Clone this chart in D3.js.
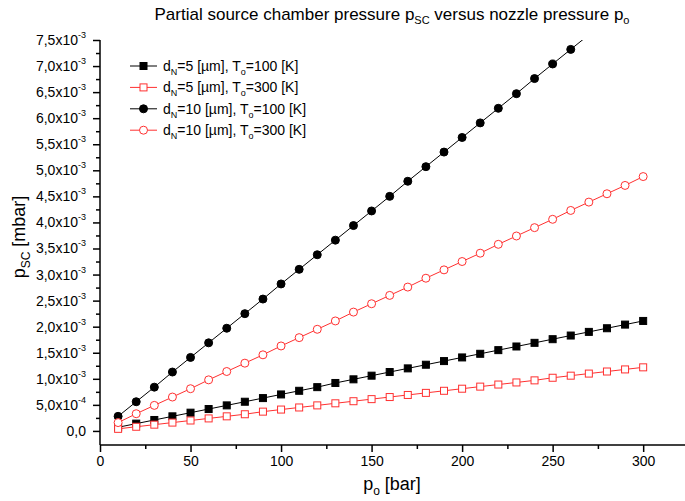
<!DOCTYPE html>
<html>
<head>
<meta charset="utf-8">
<script src="https://cdn.jsdelivr.net/npm/d3@7"></script>
<style>
  body { margin: 0; background: #fff; }
  text { font-family: "Liberation Sans", Arial, sans-serif; fill: #000; }
</style>
</head>
<body>
<div id="chart"></div>
<script>
// nozzle pressure p_o [bar]
const po = [10, 20, 30, 40, 50, 60, 70, 80, 90, 100, 110, 120, 130, 140, 150,
  160, 170, 180, 190, 200, 210, 220, 230, 240, 250, 260, 270, 280, 290, 300];

// p_SC in units of 1e-3 mbar
const d5T100 = [0.07, 0.14, 0.21, 0.28, 0.35, 0.42, 0.49, 0.56, 0.63, 0.70,
  0.77, 0.84, 0.92, 0.99, 1.06, 1.13, 1.20, 1.27, 1.34, 1.41,
  1.48, 1.55, 1.62, 1.69, 1.76, 1.83, 1.90, 1.97, 2.04, 2.11];
const d5T300 = [0.04, 0.08, 0.12, 0.16, 0.20, 0.24, 0.28, 0.32, 0.37, 0.41,
  0.45, 0.49, 0.53, 0.57, 0.61, 0.65, 0.69, 0.73, 0.77, 0.81,
  0.85, 0.89, 0.93, 0.97, 1.02, 1.06, 1.10, 1.14, 1.18, 1.22];
const d10T100 = [0.28, 0.56, 0.84, 1.13, 1.41, 1.69, 1.97, 2.25, 2.53, 2.82,
  3.10, 3.38, 3.66, 3.94, 4.22, 4.50, 4.79, 5.07, 5.35, 5.63,
  5.91, 6.19, 6.47, 6.76, 7.04, 7.32, 7.60, 7.88, 8.16, 8.44];
const d10T300 = [0.16, 0.33, 0.49, 0.65, 0.81, 0.98, 1.14, 1.30, 1.46, 1.63,
  1.79, 1.95, 2.11, 2.28, 2.44, 2.60, 2.76, 2.93, 3.09, 3.25,
  3.41, 3.58, 3.74, 3.90, 4.06, 4.23, 4.39, 4.55, 4.71, 4.88];

// legend entries
const seriesDN = [5, 5, 10, 10];
const seriesT0 = [100, 300, 100, 300];

// axis ticks
const xTicks = [0, 50, 100, 150, 200, 250, 300];
const xMinor = [25, 75, 125, 175, 225, 275];
const yTicks = [0, 0.5, 1, 1.5, 2, 2.5, 3, 3.5, 4, 4.5, 5, 5.5, 6, 6.5, 7, 7.5];
const yTickLabels = [['0,0', ''], ['5,0x10', '-4'], ['1,0x10', '-3'], ['1,5x10', '-3'],
  ['2,0x10', '-3'], ['2,5x10', '-3'], ['3,0x10', '-3'], ['3,5x10', '-3'],
  ['4,0x10', '-3'], ['4,5x10', '-3'], ['5,0x10', '-3'], ['5,5x10', '-3'],
  ['6,0x10', '-3'], ['6,5x10', '-3'], ['7,0x10', '-3'], ['7,5x10', '-3']];
const yMinor = [0.25, 0.75, 1.25, 1.75, 2.25, 2.75, 3.25, 3.75, 4.25, 4.75,
  5.25, 5.75, 6.25, 6.75, 7.25];

!(function () {
  'use strict'
  const width = 685, height = 501;
  const m = { left: 100, right: 683, top: 40, bottom: 445 };

  const series = [
    { values: d5T100, color: '#000', shape: 'square', filled: true },
    { values: d5T300, color: '#ff3030', shape: 'square', filled: false },
    { values: d10T100, color: '#000', shape: 'circle', filled: true },
    { values: d10T300, color: '#ff3030', shape: 'circle', filled: false }
  ];

  const svg = d3.select('#chart').append('svg')
    .attr('width', width)
    .attr('height', height);

  const x = d3.scaleLinear().domain([0, 322]).range([m.left, m.right]);
  const y = d3.scaleLinear().domain([-0.27, 7.5]).range([m.bottom, m.top]);

  svg.append('clipPath').attr('id', 'plot-clip')
    .append('rect')
    .attr('x', m.left).attr('y', m.top)
    .attr('width', width - m.left).attr('height', m.bottom - m.top);

  // title
  const title = svg.append('text')
    .attr('x', 392).attr('y', 20)
    .attr('text-anchor', 'middle')
    .style('font-size', '17px');
  title.append('tspan').text('Partial source chamber pressure p');
  title.append('tspan').attr('dy', 4).style('font-size', '11px').text('SC');
  title.append('tspan').attr('dy', -4).text(' versus nozzle pressure p');
  title.append('tspan').attr('dy', 4).style('font-size', '11px').text('o');

  // axes
  const xAxisG = svg.append('g').attr('transform', 'translate(0,' + m.bottom + ')');
  xAxisG.call(d3.axisBottom(x).tickValues(xTicks).tickSize(7).tickPadding(4).tickFormat(d3.format('d')));
  xAxisG.append('g').call(d3.axisBottom(x).tickValues(xMinor).tickSize(4).tickFormat(''));
  xAxisG.selectAll('.domain').remove();
  xAxisG.selectAll('.tick line').attr('stroke', '#000').attr('stroke-width', 1.5);
  xAxisG.selectAll('.tick text')
    .style('font-size', '14px')
    .style('font-family', '"Liberation Sans", Arial, sans-serif');

  const yAxisG = svg.append('g').attr('transform', 'translate(' + m.left + ',0)');
  yAxisG.call(d3.axisLeft(y).tickValues(yTicks).tickSize(7).tickFormat(''));
  yAxisG.append('g').call(d3.axisLeft(y).tickValues(yMinor).tickSize(4).tickFormat(''));
  yAxisG.selectAll('.domain').remove();
  yAxisG.selectAll('.tick line').attr('stroke', '#000').attr('stroke-width', 1.5);

  yAxisG.selectAll('.ylab')
    .data(yTicks)
    .join('text')
    .attr('class', 'ylab')
    .attr('x', -14)
    .attr('y', d => y(d) + 5)
    .attr('text-anchor', 'end')
    .style('font-size', '14px')
    .each(function (d, i) {
      const t = d3.select(this);
      t.append('tspan').text(yTickLabels[i][0]);
      if (yTickLabels[i][1]) {
        t.append('tspan').attr('dy', -7).style('font-size', '9px').text(yTickLabels[i][1]);
      }
    });

  svg.append('line')
    .attr('x1', m.left).attr('x2', width)
    .attr('y1', m.bottom).attr('y2', m.bottom)
    .attr('stroke', '#000').attr('stroke-width', 1.5);
  svg.append('line')
    .attr('x1', m.left).attr('x2', m.left)
    .attr('y1', m.top).attr('y2', m.bottom)
    .attr('stroke', '#000').attr('stroke-width', 1.5);

  // axis titles
  const xt = svg.append('text')
    .attr('x', 392).attr('y', 490)
    .attr('text-anchor', 'middle')
    .style('font-size', '18px');
  xt.append('tspan').text('p');
  xt.append('tspan').attr('dy', 5).style('font-size', '12px').text('o');
  xt.append('tspan').attr('dy', -5).text(' [bar]');

  const yt = svg.append('text')
    .attr('transform', 'translate(25,237) rotate(-90)')
    .attr('text-anchor', 'middle')
    .style('font-size', '18px');
  yt.append('tspan').text('p');
  yt.append('tspan').attr('dy', 5).style('font-size', '12px').text('SC');
  yt.append('tspan').attr('dy', -5).text(' [mbar]');

  // markers
  function drawMarker(g, cx, cy, s) {
    if (s.shape === 'square') {
      g.append('rect')
        .attr('x', cx - 3.5).attr('y', cy - 3.5)
        .attr('width', 7).attr('height', 7)
        .attr('fill', s.filled ? s.color : '#fff')
        .attr('stroke', s.color).attr('stroke-width', 1);
    } else {
      g.append('circle')
        .attr('cx', cx).attr('cy', cy).attr('r', 4)
        .attr('fill', s.filled ? s.color : '#fff')
        .attr('stroke', s.color).attr('stroke-width', 1);
    }
  }

  const line = d3.line()
    .x((d, i) => x(po[i]))
    .y(d => y(d));

  const plot = svg.append('g');
  series.forEach(s => {
    plot.append('path')
      .datum(s.values)
      .attr('clip-path', 'url(#plot-clip)')
      .attr('fill', 'none')
      .attr('stroke', s.color)
      .attr('stroke-width', 1)
      .attr('d', line);
    const mg = plot.append('g');
    s.values.forEach((v, i) => {
      if (v <= 7.5) drawMarker(mg, x(po[i]), y(v), s);
    });
  });

  // legend
  const legend = svg.append('g');
  series.forEach((s, i) => {
    const ly = 66 + i * 21.4;
    legend.append('line')
      .attr('x1', 130).attr('x2', 157)
      .attr('y1', ly).attr('y2', ly)
      .attr('stroke', s.color).attr('stroke-width', 1);
    drawMarker(legend, 143.5, ly, s);
    const t = legend.append('text')
      .attr('x', 163).attr('y', ly + 5)
      .style('font-size', '14px');
    t.append('tspan').text('d');
    t.append('tspan').attr('dy', 4).style('font-size', '9px').text('N');
    t.append('tspan').attr('dy', -4).text('=' + seriesDN[i] + ' [µm], T');
    t.append('tspan').attr('dy', 4).style('font-size', '9px').text('o');
    t.append('tspan').attr('dy', -4).text('=' + seriesT0[i] + ' [K]');
  });
}())
</script>
</body>
</html>
